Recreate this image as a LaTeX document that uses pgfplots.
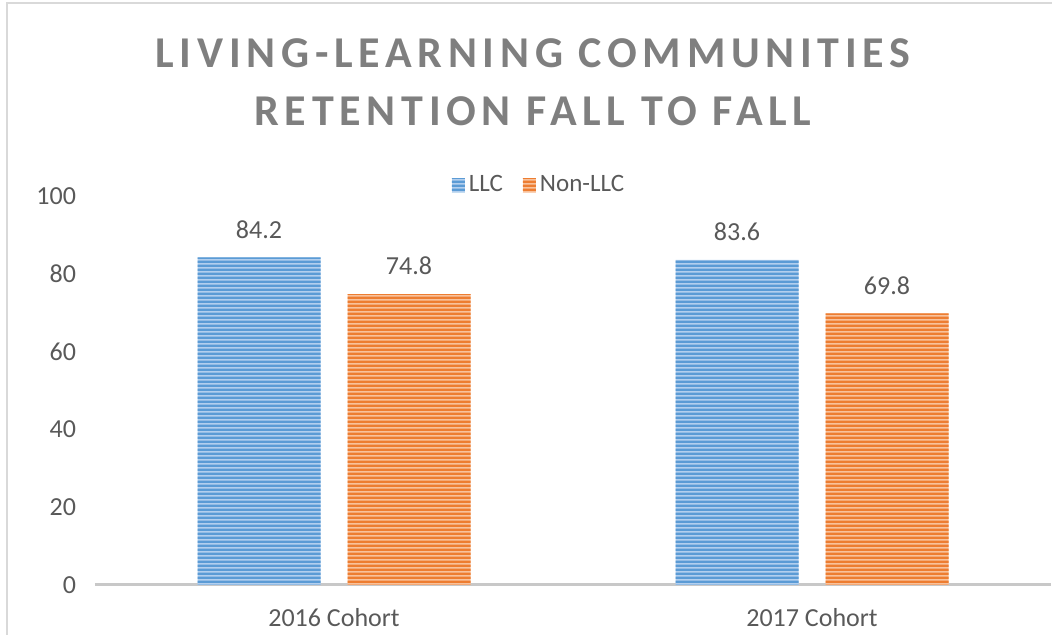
\documentclass[border=0pt]{standalone}
\usepackage{fontspec}
\setmainfont{Carlito}
\newfontfamily\titlefont{Carlito}[LetterSpace=13]
\usepackage{pgfplots}
\pgfplotsset{compat=1.18}
\usetikzlibrary{patterns.meta}
\definecolor{llcLight}{HTML}{B3CFEE}
\definecolor{llcDark}{HTML}{5B9BD5}
\definecolor{nonLight}{HTML}{F8C29C}
\definecolor{nonDark}{HTML}{ED7D31}
\definecolor{txt}{HTML}{595959}
\definecolor{ttl}{HTML}{7F7F7F}
\definecolor{axl}{HTML}{C8C8C8}
\tikzdeclarepattern{
  name=hstripes,
  type=uncolored,
  bounding box={(0pt,0pt) and (20pt,2.2pt)},
  tile size={(20pt,2.2pt)},
  code={\pgfpathrectangle{\pgfpoint{-0.5pt}{0pt}}{\pgfpoint{21pt}{1.3pt}}\pgfusepath{fill}}
}
\pgfplotstableread{
x llc non
0 84.2 74.8
1 83.6 69.8
}\datatable
\begin{document}
\begin{tikzpicture}
\useasboundingbox (-47.5pt,-25pt) rectangle (478.5pt,292.5pt);
\draw[color={rgb,255:red,217;green,217;blue,217},line width=1pt] (-44pt,-25pt) -- (-44pt,291pt) -- (478.5pt,291pt);
\begin{axis}[
  at={(0pt,0pt)}, anchor=south west,
  scale only axis,
  width=478pt, height=194.5pt,
  ymin=0, ymax=100,
  xmin=-0.5, xmax=1.5,
  ybar=13.5pt, bar width=61.5pt,
  xtick=data, xticklabels={2016 Cohort, 2017 Cohort},
  ytick={0,20,40,60,80,100},
  axis y line*=left, y axis line style={draw=none},
  axis x line*=bottom, x axis line style={draw=axl, line width=1.5pt},
  major tick length=0pt,
  tick style={draw=none},
  /pgf/number format/assume math mode=true,
  ticklabel style={font=\fontsize{13}{15}\selectfont, text=txt},
  yticklabel style={xshift=-6pt},
  xticklabel style={yshift=-8pt},
  enlarge y limits=false,
  clip=false,
  nodes near coords={\pgfmathprintnumber[fixed,precision=1,fixed zerofill,assume math mode=true]{\pgfplotspointmeta}},
  nodes near coords style={font=\fontsize{13}{15}\selectfont, text=txt, yshift=6pt},
  legend columns=2,
  legend style={at={(0.4655,1.028)}, anchor=center, draw=none, fill=none,
    font=\fontsize{12.5}{15}\selectfont, text=txt,
    /tikz/every even column/.append style={column sep=8pt}},
  legend image code/.code={\path[#1,draw=none] (0pt,-3.5pt) rectangle (6.5pt,3.5pt);},
]
\addplot[fill=llcLight, draw=none, postaction={pattern=hstripes, pattern color=llcDark}] table[x=x,y=llc] {\datatable};
\addplot[fill=nonLight, draw=none, postaction={pattern=hstripes, pattern color=nonDark}] table[x=x,y=non] {\datatable};
\legend{LLC, Non-LLC}
\end{axis}
\node[anchor=base, text=ttl, font=\titlefont\bfseries\fontsize{22}{26}\selectfont] at (219pt,258.5pt) {LIVING-LEARNING COMMUNITIES};
\node[anchor=base, text=ttl, font=\titlefont\bfseries\fontsize{22}{26}\selectfont] at (219pt,229.5pt) {RETENTION FALL TO FALL};
\end{tikzpicture}
\end{document}
